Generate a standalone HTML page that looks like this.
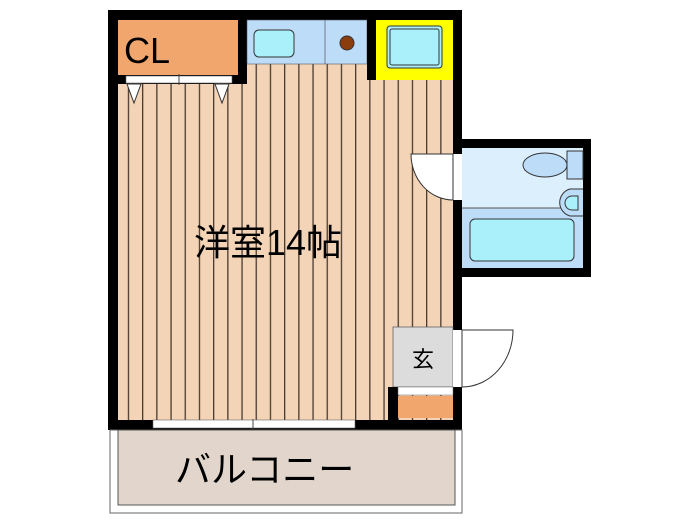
<!DOCTYPE html><html><head><meta charset="utf-8"><style>body{margin:0;background:#fff}svg{display:block}</style></head><body>
<svg width="700" height="525" xmlns="http://www.w3.org/2000/svg">
<defs><pattern id="st" x="0" y="0" width="14.2" height="10" patternUnits="userSpaceOnUse"><rect width="14.2" height="10" fill="#f4d4b7"/><rect x="0" width="1.3" height="10" fill="#4a3a30"/></pattern></defs>
<rect x="108" y="10" width="354" height="420" fill="#000"/>
<rect x="118" y="64" width="335" height="356" fill="url(#st)"/>
<rect x="118" y="20" width="120" height="55" fill="#f0a66c"/>
<rect x="238" y="10" width="9" height="74" fill="#000"/>
<rect x="118" y="75" width="129" height="9" fill="#000"/>
<rect x="126" y="76" width="106" height="7" fill="#fff" stroke="#666" stroke-width="0.6"/>
<line x1="179" y1="74" x2="179" y2="85" stroke="#444"/>
<polygon points="127,84 141,84 134,103" fill="#fff" stroke="#333"/>
<polygon points="215,84 229,84 222,103" fill="#fff" stroke="#333"/>
<text x="124" y="63" font-family="Liberation Sans,sans-serif" font-size="36" fill="#000">CL</text>
<rect x="247" y="20" width="120" height="44" fill="#bcdcf7" stroke="#556" stroke-width="0.6"/>
<line x1="325" y1="20" x2="325" y2="64" stroke="#556" stroke-width="0.7"/>
<rect x="254" y="30" width="40" height="27" rx="5" fill="#a9f0fb" stroke="#333"/>
<circle cx="347" cy="43" r="7" fill="#8a3d0d" stroke="#333"/>
<rect x="367" y="10" width="9" height="70" fill="#000"/>
<rect x="376" y="20" width="77" height="60" fill="#ffff00"/>
<rect x="387" y="26" width="55" height="42" rx="3" fill="#a9f0fb" stroke="#333"/>
<rect x="390" y="29" width="49" height="36" rx="2" fill="none" stroke="#333"/>
<rect x="457" y="139" width="134" height="138" fill="#000"/>
<rect x="462" y="148" width="121" height="120" fill="#bcdcf7"/>
<rect x="462" y="148" width="121" height="60" fill="#dceffc"/>
<line x1="462" y1="208" x2="583" y2="208" stroke="#555"/>
<ellipse cx="545" cy="165" rx="22" ry="12" fill="#bcdcf7" stroke="#333"/>
<rect x="567" y="151" width="16" height="28" fill="#bcdcf7" stroke="#333"/>
<path d="M583 189 H570 A14 14 0 0 0 570 216 H583" fill="#bcdcf7" stroke="#333"/>
<path d="M578 196 H572 A7 7 0 0 0 572 210 H578 Z" fill="#a9f0fb" stroke="#333"/>
<rect x="470" y="219" width="104" height="42" rx="5" fill="#a9f0fb" stroke="#333"/>
<rect x="453" y="154" width="9" height="46" fill="#fff"/>
<path d="M453 200 A42 46 0 0 1 411 154 H453 Z" fill="#fff" stroke="#333"/>
<rect x="393" y="327" width="60" height="60" fill="#dcdcdc" stroke="#555" stroke-width="0.7"/>
<text x="423" y="367" font-family="Noto Sans CJK JP,sans-serif" font-size="22" text-anchor="middle">玄</text>
<rect x="453" y="330" width="9" height="57" fill="#fff"/>
<path d="M462 387 A51 57 0 0 0 513 330 H462 Z" fill="#fff" stroke="#333"/>
<rect x="388" y="387" width="10" height="43" fill="#000"/>
<rect x="398" y="387" width="55" height="8" fill="#fff" stroke="#666" stroke-width="0.5"/>
<rect x="398" y="396" width="55" height="22" fill="#f0a66c"/>
<rect x="153" y="420" width="202" height="8" fill="#fff" stroke="#666" stroke-width="0.6"/>
<line x1="253" y1="419" x2="253" y2="429" stroke="#444"/>
<rect x="110" y="430" width="352" height="83" fill="#fff" stroke="#666"/>
<rect x="118" y="430" width="337" height="75" fill="#e2d6cc" stroke="#555"/>
<text x="175" y="482" font-family="Noto Sans CJK JP,sans-serif" font-size="36">バルコニー</text>
<text x="194" y="255" font-family="Liberation Sans,Noto Sans CJK JP,sans-serif" font-size="36">洋室14帖</text>
</svg></body></html>
